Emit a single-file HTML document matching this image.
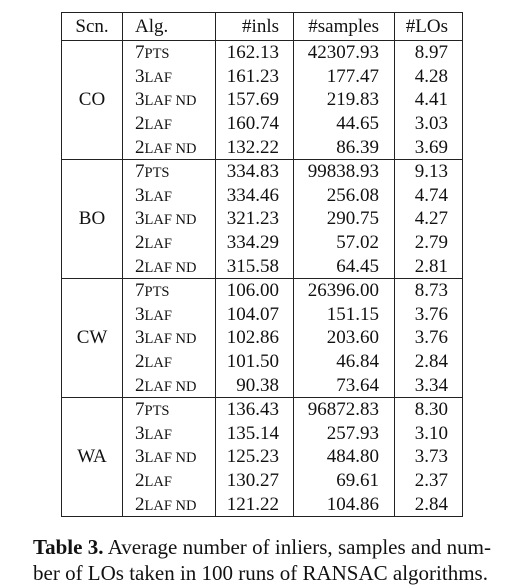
<!DOCTYPE html>
<html><head><meta charset="utf-8"><style>
html,body{margin:0;padding:0;background:#fff;width:512px;height:588px;overflow:hidden}
body{font-family:"Liberation Serif",serif;color:#111;position:relative}
table{position:absolute;left:61px;top:12px;border-collapse:collapse;font-size:19px}
td,th{border-left:1.3px solid #222;border-right:1.3px solid #222;padding:0;font-weight:normal;line-height:1}
th{height:27px;border-top:1.3px solid #222;border-bottom:1.3px solid #222}
tr.r td{height:23.8px}
tr.last td{border-bottom:1.3px solid #222}
.c1{width:60px;text-align:center}
.c2{width:93px;text-align:left;padding-left:12px;box-sizing:border-box}
.c3{width:78px;text-align:right;padding-right:14px;box-sizing:border-box}
.c4{width:101px;text-align:right;padding-right:15px;box-sizing:border-box}
.c5{width:68px;text-align:right;padding-right:14px;box-sizing:border-box}
.sc{font-size:14.5px}
.cap{position:absolute;left:33px;top:534px;width:458px;font-size:21px;line-height:26px;white-space:nowrap}
.l1{display:block;text-align:justify;text-align-last:justify;width:458px}
</style></head><body>
<table>
<tr><th class="c1" style="text-align:center">Scn.</th><th class="c2">Alg.</th><th class="c3">#inls</th><th class="c4">#samples</th><th class="c5">#LOs</th></tr>
<tbody id="tb"></tbody>
</table>
<div class="cap"><span class="l1"><b>Table 3.</b> Average number of inliers, samples and num-</span>ber of LOs taken in 100 runs of RANSAC algorithms.</div>
<script>
const scenes=["CO","BO","CW","WA"];
const algs=[["7","PTS"],["3","LAF"],["3","LAF ND"],["2","LAF"],["2","LAF ND"]];
const inls=[["162.13","161.23","157.69","160.74","132.22"],["334.83","334.46","321.23","334.29","315.58"],["106.00","104.07","102.86","101.50","90.38"],["136.43","135.14","125.23","130.27","121.22"]];
const samples=[["42307.93","177.47","219.83","44.65","86.39"],["99838.93","256.08","290.75","57.02","64.45"],["26396.00","151.15","203.60","46.84","73.64"],["96872.83","257.93","484.80","69.61","104.86"]];
const los=[["8.97","4.28","4.41","3.03","3.69"],["9.13","4.74","4.27","2.79","2.81"],["8.73","3.76","3.76","2.84","3.34"],["8.30","3.10","3.73","2.37","2.84"]];
const tb=document.getElementById('tb');
scenes.forEach((s,i)=>{
  algs.forEach((a,j)=>{
    const tr=document.createElement('tr');
    tr.className='r'+(j==4?' last':'');
    
    
    let h='';
    if(j==0)h+='<td class="c1" rowspan="5" style="border-bottom:1.3px solid #222">'+s+'</td>';
    h+='<td class="c2">'+a[0]+'<span class="sc">'+a[1]+'</span></td>';
    h+='<td class="c3">'+inls[i][j]+'</td><td class="c4">'+samples[i][j]+'</td><td class="c5">'+los[i][j]+'</td>';
    tr.innerHTML=h;
    tb.appendChild(tr);
  });
});
</script>
</body></html>
